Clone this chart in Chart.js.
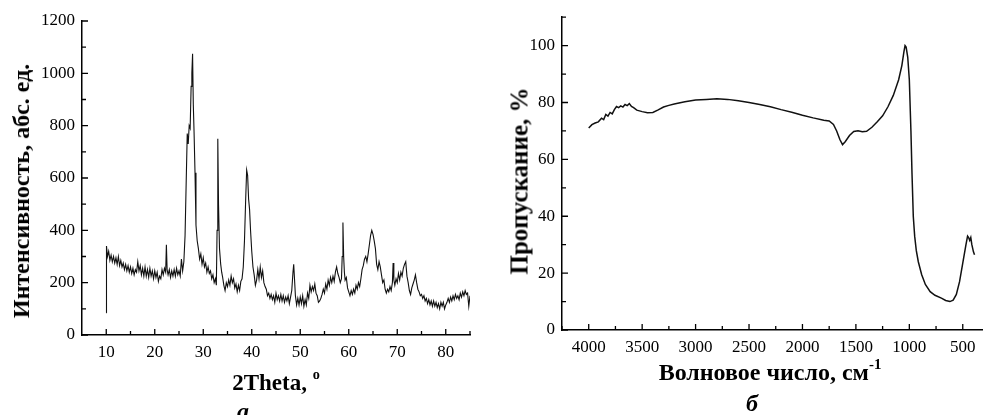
<!DOCTYPE html>
<html>
<head>
<meta charset="utf-8">
<script src="https://cdn.jsdelivr.net/npm/chart.js@4.4.1/dist/chart.umd.min.js"></script>
<style>
  body { margin: 0; background: #fff; }
  #page { position: relative; width: 983px; height: 415px; overflow: hidden; font-family: "Liberation Serif", "Times New Roman", serif; color: #000; }
  canvas { position: absolute; top: 0; }
  .lbl { position: absolute; white-space: nowrap; font-weight: bold; line-height: 1; }
  .ytitle { transform: translate(-50%, -50%) rotate(-90deg); }
  .xtitle { transform: translateX(-50%); }
  .cap { position: absolute; font-style: italic; font-weight: bold; line-height: 1; transform: translateX(-50%); }
  sup { font-size: 62%; vertical-align: 0; position: relative; top: -0.75em; }
</style>
</head>
<body>
<div id="page">
  <canvas id="xrd" width="490" height="415" style="left:0"></canvas>
  <canvas id="ir" width="493" height="415" style="left:490px"></canvas>

  <div class="lbl ytitle" style="left:21px; top:191px; font-size:24px;">Интенсивность, абс. ед.</div>
  <div class="lbl xtitle" style="left:276px; top:371px; font-size:23px;">2Theta, <sup>o</sup></div>
  <div class="cap" style="left:243px; top:399px; font-size:24px;">а</div>

  <div class="lbl ytitle" style="left:519px; top:181px; font-size:25px;">Пропускание, %</div>
  <div class="lbl xtitle" style="left:770px; top:360px; font-size:24px;">Волновое число, см<sup>-1</sup></div>
  <div class="cap" style="left:752px; top:391px; font-size:24px;">б</div>
</div>
<script>
// --- XRD pattern (a) ---
const thetaX = [
  10, 10.05, 10.25, 10.5, 10.75,
  11, 11.25, 11.5, 11.75, 12, 12.25, 12.5, 12.75, 13, 13.25, 13.5, 13.75,
  14, 14.25, 14.5, 14.75, 15, 15.25, 15.5, 15.75, 16, 16.25, 16.5, 16.75,
  17, 17.25, 17.5, 17.75, 18, 18.25, 18.5, 18.75, 19, 19.25, 19.5, 19.75,
  20, 20.25, 20.5, 20.75, 21, 21.25, 21.5, 21.75,
  22, 22.25, 22.4, 22.55, 22.75, 23, 23.25, 23.5, 23.75,
  24, 24.25, 24.5, 24.75, 25, 25.25, 25.5, 25.75,
  26, 26.25, 26.5, 26.7, 26.9, 27.1, 27.3, 27.5, 27.65, 27.8, 27.95,
  28.1, 28.3, 28.5, 28.75, 29, 29.25, 29.5, 29.75,
  30, 30.25, 30.5, 30.75, 31, 31.25, 31.5, 31.75,
  32, 32.25, 32.5, 32.7, 32.85, 33, 33.15, 33.35, 33.6, 33.8,
  34, 34.25, 34.5, 34.75, 35, 35.25, 35.5, 35.75,
  36, 36.25, 36.5, 36.75, 37, 37.25, 37.5, 37.75,
  38, 38.25, 38.5, 38.75, 38.95, 39.15, 39.35, 39.55, 39.75,
  40, 40.25, 40.5, 40.75, 41, 41.25, 41.5, 41.75,
  42, 42.25, 42.5, 42.75, 43, 43.25, 43.5, 43.75,
  44, 44.25, 44.5, 44.75, 45, 45.25, 45.5, 45.75,
  46, 46.25, 46.5, 46.75, 47, 47.25, 47.5, 47.75,
  48, 48.25, 48.5, 48.65, 48.8, 49, 49.25, 49.5, 49.75,
  50, 50.25, 50.5, 50.75, 51, 51.25, 51.5, 51.75,
  52, 52.25, 52.5, 52.75, 53, 53.25, 53.5, 53.75,
  54, 54.25, 54.5, 54.75, 55, 55.25, 55.5, 55.75,
  56, 56.25, 56.5, 56.75, 57, 57.25, 57.5, 57.75,
  58, 58.25, 58.5, 58.65, 58.8, 58.95, 59.1, 59.25, 59.5, 59.75,
  60, 60.25, 60.5, 60.75, 61, 61.25, 61.5, 61.75,
  62, 62.25, 62.5, 62.75, 63, 63.25, 63.5, 63.75,
  64, 64.25, 64.5, 64.75, 65, 65.25, 65.5, 65.75,
  66, 66.25, 66.5, 66.75, 67, 67.25, 67.5, 67.75,
  68, 68.25, 68.5, 68.75, 69, 69.15, 69.3, 69.5, 69.75,
  70, 70.25, 70.5, 70.75, 71, 71.25, 71.5, 71.75,
  72, 72.25, 72.5, 72.75, 73, 73.25, 73.5, 73.75,
  74, 74.25, 74.5, 74.75, 75, 75.25, 75.5, 75.75,
  76, 76.25, 76.5, 76.75, 77, 77.25, 77.5, 77.75,
  78, 78.25, 78.5, 78.75, 79, 79.25, 79.5, 79.75,
  80, 80.25, 80.5, 80.75, 81, 81.25, 81.5, 81.75,
  82, 82.25, 82.5, 82.75, 83, 83.25, 83.5, 83.75,
  84, 84.25, 84.5, 84.75, 85
];
const intensity = [
  85, 340, 300, 320, 285,
  305, 280, 300, 275, 295, 270, 300, 265, 285, 260, 275, 250,
  270, 245, 265, 240, 260, 235, 255, 230, 250, 240, 280, 245,
  265, 230, 255, 225, 260, 225, 250, 220, 255, 225, 245, 215,
  245, 220, 240, 205, 225, 215, 250, 230,
  255, 240, 345, 250, 230, 250, 220, 245, 225,
  250, 225, 255, 230, 245, 225, 290, 245,
  280, 380, 600, 770, 730, 800, 790, 950, 1000, 1075, 880,
  780, 620, 420, 360, 330, 290, 310, 270,
  295, 260, 275, 240, 260, 235, 245, 215,
  230, 200, 215, 190, 400, 750, 500, 330, 270, 240,
  220, 190, 170, 200, 185, 210, 190, 225,
  200, 215, 180, 195, 165, 190, 170, 205,
  215, 260, 360, 520, 630, 610, 520, 480, 400,
  320, 260, 230, 190, 210, 250, 215, 260,
  220, 245, 200, 185, 175, 150, 160, 140,
  155, 135, 150, 125, 160, 135, 150, 130,
  155, 130, 150, 125, 145, 130, 150, 120,
  145, 170, 240, 270, 220, 150, 115, 140, 115,
  145, 120, 150, 110, 135, 115, 160, 140,
  190, 165, 185, 170, 195, 160, 150, 125,
  130, 140, 155, 175, 160, 195, 175, 210,
  190, 220, 200, 225, 205, 240, 260, 235,
  220, 200, 215, 300, 430, 300, 240, 210, 220, 180,
  165, 150, 170, 155, 175, 160, 190, 175,
  200, 185, 215, 250, 265, 290, 300, 280,
  310, 345, 380, 400, 385, 360, 330, 270,
  250, 280, 260, 230, 200, 210, 175, 160,
  175, 165, 185, 170, 200, 275, 210, 190, 215,
  200, 235, 210, 240, 225, 255, 270, 280,
  225, 200, 170, 155, 180, 195, 210, 230,
  200, 175, 165, 150, 155, 140, 150, 130,
  140, 120, 135, 115, 130, 110, 130, 110,
  125, 105, 120, 100, 125, 110, 125, 100,
  115, 125, 140, 125, 145, 130, 150, 135,
  155, 140, 150, 135, 160, 145, 165, 150,
  170, 155, 160, 110, 150
];
const xrdXTicks = [10, 20, 30, 40, 50, 60, 70, 80];
const xrdXMinor = [15, 25, 35, 45, 55, 65, 75, 85];
const xrdYTicks = [0, 200, 400, 600, 800, 1000, 1200];
const xrdYMinor = [100, 300, 500, 700, 900, 1100];

// --- IR spectrum (б) ---
const waveNumber = [
  4000, 3970, 3940, 3910, 3880, 3860, 3840, 3820, 3800, 3780, 3760, 3740,
  3720, 3700, 3680, 3660, 3640, 3620, 3600, 3580, 3550, 3500, 3450, 3400,
  3350, 3300, 3250, 3200, 3100, 3000, 2900, 2800, 2700, 2600, 2500, 2400,
  2300, 2200, 2100, 2000, 1900, 1800, 1750, 1710, 1680, 1650, 1625, 1600,
  1560, 1520, 1480, 1440, 1400, 1350, 1300, 1250, 1200, 1150, 1100, 1070,
  1050, 1040, 1030, 1015, 1000, 985, 975, 963, 950, 935, 916, 885,
  850, 805, 760, 700, 660, 620, 590, 560, 530, 500, 470, 455,
  445, 435, 425, 415, 400, 390
];
const transmission = [
  71, 72.2, 72.8, 73.2, 74.5, 74, 75.8, 75.2, 76.5, 76, 77.5, 78.6,
  78.2, 78.8, 78.4, 79.3, 78.9, 79.6, 78.6, 78.2, 77.3, 76.8, 76.4, 76.5,
  77.4, 78.4, 79, 79.5, 80.3, 80.9, 81.1, 81.3, 81.1, 80.6, 80, 79.3,
  78.5, 77.5, 76.6, 75.5, 74.6, 73.8, 73.5, 72.3, 70, 67, 65.2, 66.2,
  68.4, 69.8, 70.1, 69.7, 69.9, 71.3, 73.2, 75.3, 78.5, 82.5, 88, 93,
  98, 100, 99.5, 96, 88, 70, 55, 40, 33, 28, 24, 19.5,
  16, 13.5, 12.2, 11.2, 10.4, 10, 10.5, 12.5, 17, 23.5, 30, 33,
  32.5, 31.5, 32.5, 30, 27.5, 26.5
];
const irXTicks = [4000, 3500, 3000, 2500, 2000, 1500, 1000, 500];
const irXMinor = [4250, 3750, 3250, 2750, 2250, 1750, 1250, 750];
const irYTicks = [0, 20, 40, 60, 80, 100];
const irYMinor = [10, 30, 50, 70, 90, 110];

const FONT = '"Liberation Serif", "Times New Roman", serif';

// ticks drawn inside the plot, like the original figure
const innerTicks = {
  id: 'innerTicks',
  afterDraw(chart, args, opts) {
    const ctx = chart.ctx;
    const sx = chart.scales.x, sy = chart.scales.y;
    ctx.save();
    ctx.strokeStyle = '#000';
    ctx.lineWidth = 1.3;
    ctx.beginPath();
    const xt = (vals, len) => vals.forEach(v => {
      const px = sx.getPixelForValue(v);
      ctx.moveTo(px, sx.top); ctx.lineTo(px, sx.top - len);
    });
    const yt = (vals, len) => vals.forEach(v => {
      const py = sy.getPixelForValue(v);
      ctx.moveTo(sy.right, py); ctx.lineTo(sy.right + len, py);
    });
    xt(opts.xMajor, 6); xt(opts.xMinor, 4);
    yt(opts.yMajor, 6); yt(opts.yMinor, 4);
    ctx.stroke();
    ctx.restore();
  }
};

function axis(min, max, ticks, extra) {
  return Object.assign({
    type: 'linear',
    min: min,
    max: max,
    afterBuildTicks: s => { s.ticks = ticks.map(v => ({ value: v })); },
    grid: { display: false, drawTicks: false },
    border: { display: true, color: '#000', width: 1.5 },
    ticks: {
      color: '#000',
      font: { family: FONT, size: 17 },
      padding: 7,
      maxRotation: 0,
      autoSkip: false,
      callback: v => String(v)
    }
  }, extra);
}

function makeChart(id, xs, ys, lineWidth, xCfg, yCfg, pad, tickOpts) {
  return new Chart(document.getElementById(id), {
    type: 'line',
    data: {
      datasets: [{
        data: xs.map((x, i) => ({ x: x, y: ys[i] })),
        borderColor: '#111',
        borderWidth: lineWidth,
        pointRadius: 0,
        tension: 0,
        fill: false
      }]
    },
    options: {
      responsive: false,
      animation: false,
      parsing: false,
      layout: { padding: pad },
      plugins: { legend: { display: false }, tooltip: { enabled: false }, innerTicks: tickOpts },
      scales: { x: xCfg, y: yCfg }
    },
    plugins: [innerTicks]
  });
}

makeChart('xrd', thetaX, intensity, 1.1,
  axis(5, 85, xrdXTicks, { afterFit: s => { s.height = 80; } }),
  axis(0, 1200, xrdYTicks, { afterFit: s => { s.width = 82; } }),
  { top: 21, right: 20, left: 0, bottom: 0 },
  { xMajor: xrdXTicks, xMinor: xrdXMinor, yMajor: xrdYTicks, yMinor: xrdYMinor });

makeChart('ir', waveNumber, transmission, 1.5,
  axis(320, 4250, irXTicks, { reverse: true, afterFit: s => { s.height = 85; } }),
  axis(0, 110, irYTicks, { afterFit: s => { s.width = 72; } }),
  { top: 13, right: 1, left: 0, bottom: 0 },
  { xMajor: irXTicks, xMinor: irXMinor, yMajor: irYTicks, yMinor: irYMinor });
</script>
</body>
</html>
